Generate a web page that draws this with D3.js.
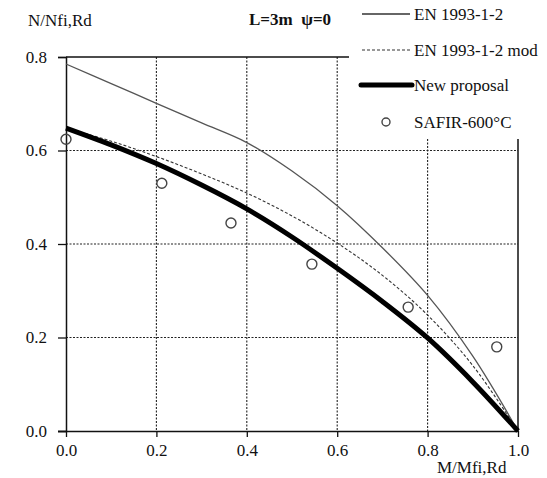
<!DOCTYPE html>
<html>
<head>
<meta charset="utf-8">
<script src="https://cdn.jsdelivr.net/npm/d3@7"></script>
<style>
  body { margin: 0; background: #fff; }
  svg text { font-family: "Liberation Serif", "Times New Roman", serif !important; fill: #111; }
</style>
</head>
<body>
<svg id="chart" width="547" height="478"></svg>
<script>
// values
var mx = [0, 0.1, 0.2, 0.3, 0.4, 0.5, 0.6, 0.7, 0.8, 0.9, 1.0];
var en = [0.785, 0.743, 0.701, 0.659, 0.617, 0.556, 0.482, 0.392, 0.29, 0.16, 0];
var enMod = [0.648, 0.62, 0.587, 0.55, 0.509, 0.46, 0.402, 0.333, 0.248, 0.14, 0];
var proposal = [0.648, 0.612, 0.572, 0.526, 0.475, 0.415, 0.348, 0.277, 0.199, 0.105, 0];
var safirX = [0.0, 0.212, 0.365, 0.544, 0.757, 0.953];
var safirY = [0.624, 0.530, 0.445, 0.357, 0.265, 0.18];
var ticks = [0, 0.2, 0.4, 0.6, 0.8, 1.0];
var yTicks = [0, 0.2, 0.4, 0.6, 0.8];

var svg = d3.select("#chart");
var x = d3.scaleLinear().domain([0, 1]).range([66, 518]);
var y = d3.scaleLinear().domain([0, 0.8]).range([431, 57]);

// dashed grid
var grid = svg.append("g").attr("stroke", "#222").attr("stroke-width", 1.1).attr("stroke-dasharray", "2,1.5");
grid.selectAll(".h").data([0.2, 0.4, 0.6]).enter().append("line")
    .attr("x1", x(0)).attr("x2", x(1))
    .attr("y1", function(d){ return y(d); }).attr("y2", function(d){ return y(d); });
grid.selectAll(".v").data([0.2, 0.4, 0.6, 0.8]).enter().append("line")
    .attr("x1", function(d){ return x(d); }).attr("x2", function(d){ return x(d); })
    .attr("y1", function(d){ return d == 0.8 ? 139 : y(0.8); }).attr("y2", y(0));

// frame (top and right are cut by the legend)
var frame = svg.append("g").attr("stroke", "#111").attr("stroke-width", 1.5);
frame.append("line").attr("x1", x(0)).attr("x2", 349).attr("y1", y(0.8)).attr("y2", y(0.8));
frame.append("line").attr("x1", x(1)).attr("x2", x(1)).attr("y1", 139).attr("y2", y(0));

// axes
var yAxis = d3.axisLeft(y).tickValues(yTicks).tickSize(8).tickFormat(d3.format(".1f"));
var xAxis = d3.axisBottom(x).tickValues(ticks).tickSize(6).tickFormat(d3.format(".1f"));
var ya = svg.append("g").attr("transform", "translate(" + x(0) + ",0)").call(yAxis);
var xa = svg.append("g").attr("transform", "translate(0," + y(0) + ")").call(xAxis);
[ya, xa].forEach(function(a){
    a.attr("font-family", null).attr("font-size", null);
    a.select(".domain").attr("stroke", "#111").attr("stroke-width", 1.5);
    a.selectAll(".tick line").attr("stroke", "#111").attr("stroke-width", 1.3);
    a.selectAll(".tick text").style("font-size", "17px").attr("fill", "#111");
});
ya.selectAll(".tick text").attr("x", -19);
xa.selectAll(".tick text").attr("y", 13);
xa.select(".domain").attr("d", "M58,0.5H518");

// curves
var line = d3.line()
    .x(function(d){ return x(d[0]); })
    .y(function(d){ return y(d[1]); })
    .curve(d3.curveCatmullRom.alpha(0.5));

svg.append("path").datum(d3.zip(mx, en)).attr("d", line)
    .attr("fill", "none").attr("stroke", "#555").attr("stroke-width", 1.3);
svg.append("path").datum(d3.zip(mx, enMod)).attr("d", line)
    .attr("fill", "none").attr("stroke", "#333").attr("stroke-width", 1.1).attr("stroke-dasharray", "3,2");
svg.append("path").datum(d3.zip(mx, proposal)).attr("d", line)
    .attr("fill", "none").attr("stroke", "#000").attr("stroke-width", 5);

svg.selectAll(".safir").data(d3.zip(safirX, safirY)).enter().append("circle")
    .attr("cx", function(d){ return x(d[0]); })
    .attr("cy", function(d){ return y(d[1]); })
    .attr("r", 5).attr("fill", "none").attr("stroke", "#444").attr("stroke-width", 1.4);

// labels
svg.append("text").attr("x", 28).attr("y", 26).style("font-size", "17px").text("N/Nfi,Rd");
svg.append("text").attr("x", 249).attr("y", 25).style("font-size", "17px").attr("font-weight", "bold")
    .attr("xml:space", "preserve").text("L=3m  \u03c8=0");
svg.append("text").attr("x", 437).attr("y", 473).style("font-size", "17px").text("M/Mfi,Rd");

// legend
var legend = svg.append("g");
legend.append("line").attr("x1", 362).attr("x2", 410).attr("y1", 14).attr("y2", 14)
    .attr("stroke", "#333").attr("stroke-width", 1.3);
legend.append("line").attr("x1", 362).attr("x2", 412).attr("y1", 50).attr("y2", 50)
    .attr("stroke", "#333").attr("stroke-width", 1.1).attr("stroke-dasharray", "3,2");
legend.append("line").attr("x1", 361).attr("x2", 412).attr("y1", 85).attr("y2", 85)
    .attr("stroke", "#000").attr("stroke-width", 5).attr("stroke-linecap", "round");
legend.append("circle").attr("cx", 386).attr("cy", 122).attr("r", 4)
    .attr("fill", "none").attr("stroke", "#444").attr("stroke-width", 1.4);
var keys = ["EN 1993-1-2", "EN 1993-1-2 mod", "New proposal", "SAFIR-600\u00b0C"];
var keyY = [20, 56, 91, 128];
legend.selectAll(".k").data(keys).enter().append("text")
    .attr("x", 414)
    .attr("y", function(d, i){ return keyY[i]; })
    .style("font-size", "17px")
    .text(function(d){ return d; });
</script>
</body>
</html>
